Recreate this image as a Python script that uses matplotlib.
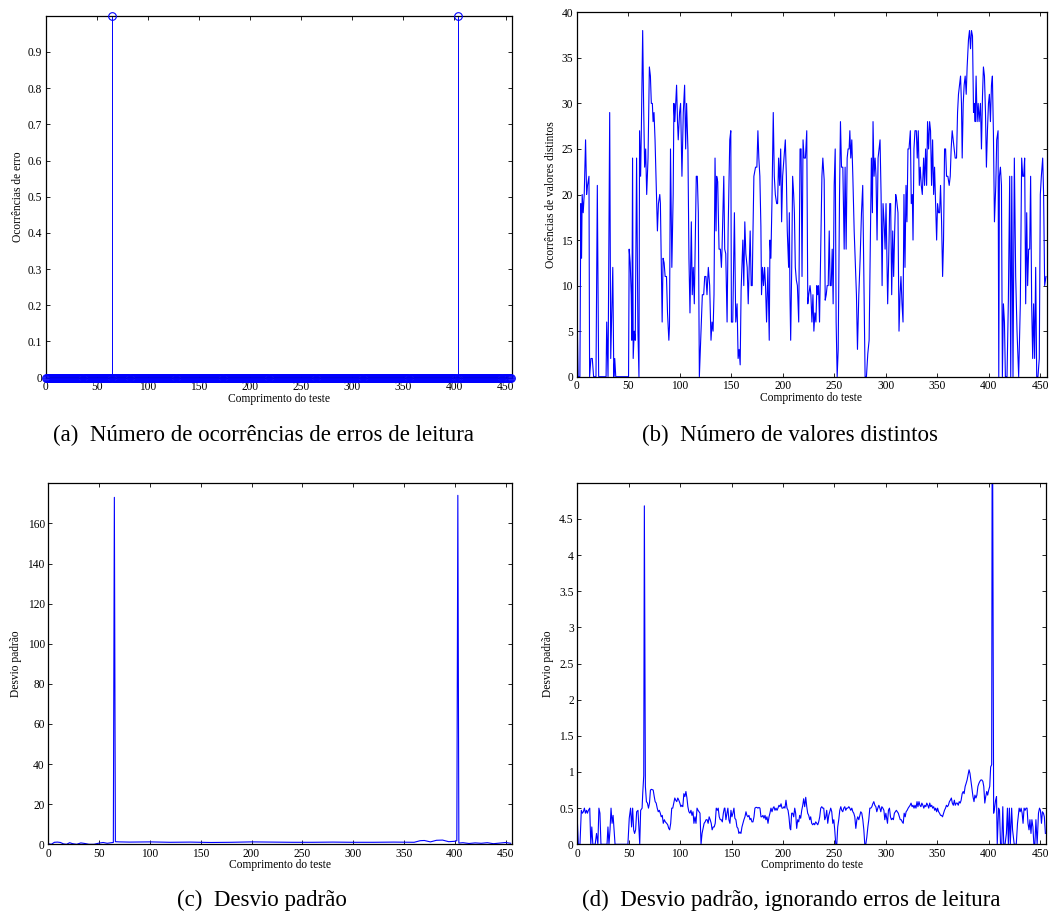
import matplotlib
matplotlib.use("Agg")
import matplotlib.pyplot as plt
import numpy as np

plt.rcParams['font.family'] = ['Liberation Serif', 'DejaVu Serif']

# ---------------- data ----------------
test_length = list(range(0, 456))
error_positions = [65, 403]

# (b) number of distinct values (vertices)
b_x = [0.0, 1.6, 3.3, 4.2, 4.9, 5.5, 6.5, 7.5, 8.8, 9.8, 10.7, 12.1, 12.7, 14.0, 15.3, 16.6, 18.9, 20.2, 21.5,
       28.7, 29.3, 30.6, 32.2, 33.2, 35.2, 36.2, 37.1, 38.1, 50.5, 51.1, 52.1, 53.1, 53.7, 54.4, 55.0, 56.0, 57.0,
       58.3, 59.6, 60.6, 61.2, 62.2, 62.9, 64.2, 65.1, 66.1, 67.1, 68.1, 69.4, 70.7, 71.7, 72.6, 73.6, 74.3, 75.2,
       76.2, 77.5, 78.5, 79.5, 80.8, 81.4, 83.1, 84.0, 85.0, 86.0, 87.3, 88.3, 89.6, 90.2, 91.2, 92.5, 93.8, 94.5,
       95.4, 97.1, 98.0, 98.7, 100.0, 101.0, 102.3, 103.6, 104.9, 105.9, 106.8, 108.1, 109.1, 110.1,
       111.4, 112.3, 113.3, 114.3, 115.3, 116.2, 117.2, 118.2, 119.2, 120.5, 122.1, 123.4, 124.4, 125.6, 126.6,
       127.9, 129.2, 130.5, 131.5, 132.5, 133.4, 134.4, 135.4, 136.0, 137.0, 138.3, 139.6, 140.6, 141.2, 142.9,
       143.8, 144.8, 146.1, 147.1, 148.7, 149.7, 150.3, 151.6, 153.2, 154.5, 155.8, 156.8, 157.8, 158.8, 159.7,
       161.4, 162.3, 163.3, 164.3, 165.6, 166.6, 167.5, 168.5, 169.5, 170.5, 171.1, 172.1, 173.7, 175.0, 176.0,
       176.9, 177.9, 178.9, 179.5, 180.5, 181.5, 182.5, 183.4, 184.4, 185.7, 187.0, 187.7, 188.6, 189.6, 190.9,
       191.9, 192.9, 194.2, 195.1, 196.1, 197.1, 198.1, 199.0, 200.0, 201.3, 202.6, 203.6, 204.5, 205.8, 206.5,
       207.1, 207.8, 208.8, 209.7, 210.7, 211.4, 212.3, 213.3, 214.3, 215.6, 216.9, 217.9, 218.8, 219.8, 220.8,
       222.1, 223.4, 224.4, 225.3, 226.6,
       227.4, 228.4, 229.4, 230.3, 231.3, 232.3, 233.2, 233.9, 234.8, 235.8, 237.1, 238.1, 239.0, 240.3, 241.3,
       242.3, 243.2, 244.2, 245.2, 246.1, 247.1, 248.1, 249.0, 250.0, 251.0, 251.9, 252.9, 253.9, 255.2, 256.1,
       257.1, 258.4, 259.7, 260.6, 261.6, 262.6, 263.5, 264.5, 265.2, 266.1, 267.1, 268.1, 269.4, 270.3, 271.6,
       272.6, 273.9, 275.2, 276.5, 277.7, 278.7, 280.0, 281.3, 282.6, 283.9, 285.2, 286.1, 287.1, 287.7, 288.7,
       289.7, 290.6, 291.6, 292.6, 293.5, 294.5, 295.5, 296.5, 297.4, 298.4, 299.4, 300.3, 301.3, 301.9, 302.9,
       303.9, 304.8, 305.8, 306.8, 307.7, 308.7, 309.7, 310.6, 311.9, 312.9, 313.9, 314.8, 315.8, 316.8, 317.7,
       318.7, 319.7, 320.6, 321.6, 322.6, 323.9, 324.8, 325.8, 326.5, 327.4, 328.4, 329.7, 330.6, 331.6, 332.6,
       333.5, 334.5, 335.5, 336.8, 337.7, 338.7, 339.7, 340.6, 341.6, 342.6,
       343.5, 344.5, 345.5, 346.5, 347.4, 348.4, 349.4, 350.3, 351.3, 352.3, 353.2, 354.2, 355.2, 356.1, 357.1,
       358.1, 359.0, 360.3, 361.6, 362.6, 363.5, 364.5, 365.5, 366.5, 367.4, 368.7, 369.7, 370.6, 371.6, 372.6,
       373.5, 374.2, 375.2, 376.1, 377.1, 378.1, 379.0, 380.3, 381.3, 382.3, 383.2, 384.2, 385.2, 386.1, 386.8,
       387.7, 388.7, 389.7, 390.6, 391.9, 392.9, 393.9, 394.8, 395.8, 396.8, 397.7, 398.7, 399.7, 400.6, 401.6,
       402.6, 403.5, 404.5, 405.5, 406.8, 407.7, 409.0, 409.7, 410.3, 411.3, 412.3, 413.2, 414.2, 415.2, 416.1,
       417.7, 419.0, 420.3, 421.3, 422.3, 423.5, 424.8, 426.1, 427.4, 429.0, 430.6, 431.9, 432.9, 433.9, 434.8,
       435.8, 436.8, 437.7, 438.7, 439.7, 440.6, 441.6, 442.6, 443.5, 444.5, 445.5, 446.5, 447.7, 449.0, 450.0,
       451.0, 452.3, 453.2, 454.2, 455.5]
b_y = [11, 0, 0, 19, 13, 20, 18, 20, 26, 20, 21, 22, 0, 2, 2, 0, 0, 21, 0,
       0, 6, 0, 29, 2, 12, 0, 2, 0, 0, 14, 12.5, 9, 4, 24, 2, 5, 4,
       24, 5, 0, 27, 22, 27, 38, 30, 23, 25, 20, 24, 34, 33, 30, 30, 28, 29,
       26, 20.5, 16, 19, 20, 19, 6, 13, 12.5, 11, 11, 7, 4, 5.5, 25, 12, 20, 30,
       28, 32, 28, 26, 29, 30, 22, 29, 32, 25, 30, 25, 13, 7,
       17, 9, 12, 8, 15, 22, 22, 18, 0, 4, 9, 9, 11, 11, 9,
       12, 10, 4, 6, 5, 9, 24, 16, 22, 21.4, 14, 14, 12, 14, 22,
       14, 13.5, 6, 16, 26, 27, 6, 6, 18, 6, 8, 2, 3, 1.3, 9.5,
       15, 10, 17, 13.5, 12, 8, 12, 16, 10, 10, 15, 22, 23, 23, 27,
       24, 22, 16.5, 9, 12, 10, 12, 10, 6, 12, 4, 15, 13, 19, 29,
       22, 20, 19, 19, 24, 21, 25, 17, 22, 24, 26, 22, 16, 12, 18,
       9, 4, 12, 22, 20, 18, 12, 10.6, 10, 6, 25, 25, 11, 26, 24,
       24, 27, 8, 9, 10,
       9, 6, 9, 5, 7, 6, 10, 9, 10, 6, 15, 22, 24, 21.6, 8.4,
       9, 10, 10, 16, 10, 10, 14, 8, 21, 25, 6, 0, 3, 20, 28,
       23, 23, 14, 23, 14, 24, 25, 25, 27, 24, 26, 22, 16, 13, 9,
       3, 9, 13, 18, 21, 12, 0, 0, 2.5, 4, 16, 24, 18, 28, 22,
       24, 22, 15, 24, 25, 26, 20, 10, 19, 17, 14, 19, 12, 8, 13,
       19, 19, 9, 16, 11, 16, 20, 19.4, 18, 5, 9, 11, 8, 6, 20,
       12, 21, 17, 25, 25, 27, 19, 20, 15, 25, 27, 27, 24, 27, 21,
       23, 21, 20, 24, 21, 25, 21, 28, 25, 28,
       27, 21, 26, 20, 23, 19, 15, 19, 18, 18, 21, 17, 11, 15, 25,
       25, 22, 22, 21, 22, 25, 27, 26, 25, 24, 24, 29, 31, 32, 33,
       30, 24, 30, 32, 33, 31, 34, 37, 38, 36, 38, 37.4, 29, 30, 28,
       33, 28, 30, 28, 30, 25, 30.8, 34, 33, 29, 23, 27, 30, 31, 28,
       32, 33, 26.7, 17, 21, 26, 27, 0, 22, 23, 21, 0, 8, 6, 0,
       0, 8.4, 22, 0, 22, 0, 24, 11, 5, 0, 8, 24, 22, 22, 24,
       8, 18, 10, 14, 14, 22, 8, 2, 8, 2, 12, 0, 0, 2, 20,
       22, 24, 20, 10, 11]

# (c) standard deviation (vertices)
c_x = [0, 3, 6, 9, 12, 15, 18, 21, 24, 28, 32, 36, 40, 45, 50, 54, 58, 62, 64, 65, 66, 70, 80, 100, 120, 140,
       160, 180, 200, 220, 240, 260, 280, 300, 320, 340, 360, 366, 370, 376, 382, 388, 394, 400, 402, 403, 404,
       408, 414, 420, 426, 432, 438, 444, 450, 455]
c_y = [0.3, 0.0, 1.0, 1.1, 0.9, 0.2, 0.0, 0.8, 0.3, 0.0, 0.7, 0.4, 0.0, 0.0, 0.6, 0.9, 0.5, 0.8, 0.9, 173, 1.3,
       1.2, 1.1, 1.2, 1.0, 1.1, 0.9, 1.0, 1.2, 1.1, 1.0, 1.0, 1.1, 1.0, 1.0, 1.1, 1.0, 1.8, 1.9, 1.2, 2.0, 2.1,
       1.3, 1.5, 1.8, 174, 0.6, 0.8, 0.4, 0.7, 0.5, 0.8, 0.3, 0.6, 0.9, 0.5]

# (d) standard deviation ignoring read errors (vertices)
d_x = [0.0, 1.0, 2.6, 3.9, 4.9, 5.9, 6.9, 7.9, 8.9, 9.8, 10.8, 12.1, 13.1, 14.1, 15.1, 17.4, 18.7, 20.0, 21.0,
       22.0, 23.0, 28.9, 29.8, 30.8, 31.8, 32.8, 33.8, 34.8, 35.7, 36.7, 49.2, 50.5, 51.8, 52.8, 53.8, 54.8, 55.7,
       56.7, 57.7, 59.0, 60.7, 61.6, 63.0, 63.6, 64.6, 65.2, 66.2, 67.2, 68.2, 69.2, 70.2, 71.1, 72.1, 73.8, 74.8,
       75.7, 76.7, 77.7, 78.7, 79.7, 80.7, 81.6, 82.6, 83.6, 84.6, 85.6, 86.9, 87.9, 88.9, 89.8, 90.8, 91.8, 92.8,
       93.8, 94.8, 95.7, 96.7, 97.7, 98.7, 99.7, 100.7, 101.6, 102.6, 103.6, 104.6, 105.6, 106.6, 107.5, 108.5,
       109.5, 110.5, 111.5, 112.5, 113.4, 114.4, 115.4, 116.4, 117.4, 118.4, 119.3, 120.3, 121.3, 122.3, 123.3,
       124.3, 125.2, 126.2, 127.2, 128.2, 129.2, 130.2, 131.1, 132.1, 133.1, 134.1, 135.1, 136.1, 137.0, 138.0,
       139.0, 140.0, 141.0, 142.0, 143.0,
       143.5, 144.5, 145.5, 146.4, 147.4, 148.4, 149.4, 150.3, 151.3, 152.3, 153.2, 154.2, 155.2, 156.2, 157.1,
       158.1, 159.1, 160.1, 161.0, 162.0, 163.0, 164.0, 164.9, 165.9, 166.9, 167.9, 168.8, 169.8, 170.8, 171.8,
       172.7, 173.7, 174.7, 175.6, 176.6, 177.6, 178.6, 179.5, 180.5, 181.5, 182.5, 183.4, 184.4, 185.4, 186.4,
       187.3, 188.3, 189.3, 190.3, 191.2, 192.2, 193.2, 194.2, 195.1, 196.1, 197.1, 198.1, 199.0, 200.0, 201.0,
       201.9, 202.9, 203.9, 204.9, 205.8, 206.8, 207.5, 208.4, 209.4, 210.4, 211.4, 212.3, 213.3, 214.3, 215.3,
       216.2, 217.2, 218.2, 219.2, 220.1, 221.1, 222.1, 223.1, 224.0, 225.0, 226.0, 226.9, 227.9, 228.9, 229.9,
       230.8, 231.8, 232.8, 233.8, 234.7, 235.7, 236.7, 237.7, 238.6, 239.6, 240.6, 241.6, 242.5, 243.5, 244.5,
       245.5, 246.4, 247.4, 248.4, 249.4, 250.3, 251.3, 252.3, 253.2, 254.2, 255.2, 256.2, 257.1, 258.1, 259.1,
       260.1, 261.0, 262.0, 263.0, 264.0, 264.9, 265.9, 266.9, 267.9, 268.8, 269.8, 270.8, 271.8, 272.7, 273.7,
       274.7, 275.6, 276.6, 277.6, 278.6, 279.5, 280.5, 281.5, 282.5, 283.4, 284.4, 285.4, 286.4, 287.3, 288.3,
       289.3, 290.3, 291.2, 292.2, 293.2, 294.2, 295.1, 296.1, 297.1, 298.1, 299.0, 300.0,
       301.6, 302.5, 303.5, 304.5, 305.4, 306.4, 307.3, 308.3, 309.2, 310.2, 311.1, 312.1, 313.1, 314.0, 315.0,
       315.9, 316.9, 317.8, 318.8, 319.7, 320.7, 321.7, 322.6, 323.6, 324.5, 325.5, 326.4, 327.4, 328.3, 329.3,
       330.3, 331.2, 332.2, 333.1, 334.1, 335.0, 336.0, 336.9, 337.9, 338.9, 339.8, 340.8, 341.7, 342.7, 343.6,
       344.6, 345.5, 346.5, 347.5, 348.4, 349.4, 350.3, 351.3, 352.2, 353.2, 354.1, 355.1, 356.1, 357.0, 358.0,
       358.9, 359.9, 360.8, 361.8, 362.7, 363.7, 364.6, 365.6, 366.6, 367.5, 368.5, 369.4, 370.4, 371.3, 372.3,
       373.2, 374.2, 375.2, 376.1, 377.1, 378.0, 379.0, 379.9, 380.9, 381.8, 382.8, 383.8, 384.7, 385.7, 386.6,
       387.6, 388.5, 389.5, 390.4, 391.4, 392.4, 393.3, 394.3, 395.2, 396.2, 397.1, 398.1, 399.0, 400.0, 401.0,
       401.9, 402.9, 403.5, 404.8, 405.7, 406.7, 407.6, 408.3, 409.6, 410.5, 411.5, 412.7, 413.7, 414.6, 415.9,
       417.2, 418.2, 419.1, 420.1, 421.0, 422.3, 423.2, 424.8, 426.8, 428.0, 429.6, 430.6, 431.5, 432.5, 433.4,
       434.4, 435.4, 436.3, 437.3, 438.2, 439.2, 440.1, 441.1, 442.0, 443.0, 443.9, 444.9, 445.9, 447.1, 448.4,
       449.4, 450.3, 451.3, 452.2, 453.2, 454.1, 455.1]
d_y = [0.34, 0, 0, 0.47, 0.43, 0.45, 0.5, 0.43, 0.47, 0.43, 0.47, 0.5, 0, 0.24, 0, 0, 0.15, 0, 0.5,
       0.43, 0, 0, 0.24, 0, 0.2, 0.5, 0.29, 0.4, 0.2, 0, 0, 0.36, 0.5, 0.24, 0.5, 0.2, 0.15,
       0.2, 0.45, 0.47, 0, 0.47, 0.5, 0.7, 0.95, 4.68, 0.8, 0.59, 0.57, 0.5, 0.57, 0.75, 0.76, 0.75, 0.66,
       0.59, 0.57, 0.5, 0.45, 0.47, 0.43, 0.38, 0.4, 0.29, 0.34, 0.31, 0.29, 0.27, 0.22, 0.2, 0.29, 0.5, 0.5,
       0.57, 0.64, 0.61, 0.59, 0.64, 0.61, 0.57, 0.52, 0.54, 0.52, 0.7, 0.66, 0.73, 0.64, 0.52, 0.45,
       0.43, 0.47, 0.4, 0.45, 0.29, 0.38, 0.29, 0.5, 0.47, 0.45, 0.43, 0, 0.15, 0.22, 0.29,
       0.31, 0.34, 0.34, 0.29, 0.38, 0.34, 0.29, 0.2, 0.24, 0.24, 0.29, 0.5, 0.47, 0.5, 0.38,
       0.34, 0.34, 0.31, 0.43, 0.5,
       0.5, 0.34, 0.43, 0.5, 0.34, 0.29, 0.47, 0.38, 0.43, 0.5, 0.36, 0.34, 0.24, 0.22, 0.15,
       0.17, 0.15, 0.24, 0.29, 0.34, 0.38, 0.45, 0.4, 0.38, 0.4, 0.34, 0.36, 0.31, 0.31, 0.38,
       0.5, 0.51, 0.51, 0.5, 0.51, 0.5, 0.38, 0.38, 0.4, 0.36, 0.4, 0.34, 0.38, 0.29, 0.38,
       0.43, 0.5, 0.45, 0.5, 0.52, 0.47, 0.5, 0.47, 0.5, 0.54, 0.52, 0.56, 0.5, 0.5, 0.52,
       0.5, 0.61, 0.5, 0.47, 0.38, 0.22, 0.2, 0.43, 0.43, 0.38, 0.5, 0.43, 0.22, 0.34, 0.31,
       0.4, 0.36, 0.47, 0.54, 0.63, 0.52, 0.65, 0.52, 0.43, 0.4, 0.34, 0.38, 0.29, 0.27, 0.29,
       0.27, 0.31, 0.29, 0.27, 0.31, 0.38, 0.5, 0.52, 0.5, 0.5, 0.34, 0.38, 0.47, 0.29, 0.4,
       0.45, 0.5, 0.45, 0.29, 0.34, 0.2, 0, 0, 0.24, 0.34, 0.47, 0.52, 0.47, 0.45, 0.5,
       0.52, 0.47, 0.5, 0.5, 0.52, 0.5, 0.47, 0.5, 0.45, 0.43, 0.38, 0.22, 0.34, 0.38, 0.34,
       0.4, 0.45, 0.43, 0.34, 0.2, 0, 0, 0.1, 0.24, 0.34, 0.5, 0.5, 0.52, 0.56, 0.59,
       0.54, 0.52, 0.45, 0.5, 0.54, 0.5, 0.45, 0.52, 0.5, 0.47, 0.34, 0.43,
       0.29, 0.47, 0.5, 0.38, 0.34, 0.36, 0.34, 0.43, 0.45, 0.47, 0.45, 0.43, 0.38, 0.34, 0.34,
       0.31, 0.29, 0.43, 0.38, 0.45, 0.47, 0.5, 0.52, 0.54, 0.57, 0.52, 0.54, 0.5, 0.54, 0.5,
       0.59, 0.52, 0.59, 0.54, 0.52, 0.57, 0.54, 0.5, 0.54, 0.52, 0.57, 0.54, 0.5, 0.57, 0.52,
       0.54, 0.5, 0.52, 0.47, 0.5, 0.45, 0.5, 0.45, 0.43, 0.4, 0.4, 0.38, 0.43, 0.47, 0.5,
       0.54, 0.52, 0.54, 0.59, 0.61, 0.64, 0.57, 0.54, 0.61, 0.54, 0.57, 0.57, 0.54, 0.59, 0.57,
       0.61, 0.7, 0.73, 0.7, 0.8, 0.84, 0.89, 0.96, 1.03, 0.98, 0.87, 0.77, 0.66, 0.59, 0.68,
       0.64, 0.68, 0.8, 0.84, 0.87, 0.89, 0.89, 0.87, 0.8, 0.57, 0.66, 0.73, 0.68, 0.75, 0.8,
       1.07, 1.1, 7.0, 0.43, 0.5, 0.61, 0.66, 0, 0.5, 0.47, 0, 0, 0.52, 0, 0,
       0.15, 0.5, 0, 0.5, 0, 0.5, 0.2, 0, 0, 0.29, 0.5, 0.45, 0.5, 0.43, 0.29,
       0.5, 0.47, 0.5, 0.5, 0.29, 0.2, 0.34, 0.15, 0.34, 0.24, 0, 0, 0.34, 0, 0.43,
       0.5, 0.47, 0.29, 0.45, 0.43, 0.38, 0.15]

x_ticks = [0, 50, 100, 150, 200, 250, 300, 350, 400, 450]
a_yticks = [0, 0.1, 0.2, 0.3, 0.4, 0.5, 0.6, 0.7, 0.8, 0.9]
b_yticks = [0, 5, 10, 15, 20, 25, 30, 35, 40]
c_yticks = [0, 20, 40, 60, 80, 100, 120, 140, 160]
d_yticks = [0, 0.5, 1, 1.5, 2, 2.5, 3, 3.5, 4, 4.5]

xlabel = "Comprimento do teste"
ylabels = ["Ocorrências de erro", "Ocorrências de valores distintos", "Desvio padrão", "Desvio padrão"]
captions = ["(a)  Número de ocorrências de erros de leitura", "(b)  Número de valores distintos",
            "(c)  Desvio padrão", "(d)  Desvio padrão, ignorando erros de leitura"]

# ---------------- figure ----------------
W, H = 1051, 918
fig = plt.figure(figsize=(W / 100, H / 100), dpi=100)

def frac_box(left, right, top, bottom):
    return [left / W, 1 - bottom / H, (right - left) / W, (bottom - top) / H]

boxes = [frac_box(45.7, 511.7, 15.7, 377.7),
         frac_box(576.5, 1046.5, 12.3, 376.7),
         frac_box(48.3, 511.7, 483.3, 844.3),
         frac_box(577.3, 1046.3, 482.7, 844.3)]
ylims = [(0, 1), (0, 40), (0, 180), (0, 5)]
yticks = [a_yticks, b_yticks, c_yticks, d_yticks]
ylabel_x = [18.5, 551, 16, 548]
caption_xy = [(263, 435), (790, 435), (262, 900), (791, 900)]

blue = '#0000ff'
axes = []
for i in range(4):
    ax = fig.add_axes(boxes[i])
    axes.append(ax)
    ax.set_xlim(0, 456)
    ax.set_ylim(*ylims[i])
    ax.set_xticks(x_ticks)
    ax.set_yticks(yticks[i])
    ax.set_yticklabels(['%g' % v for v in yticks[i]])
    ax.tick_params(direction='in', length=3, width=0.6, labelsize=8.3, pad=2.5,
                   top=True, right=True, colors='black')
    for sp in ax.spines.values():
        sp.set_linewidth(0.9)
    l, b, w, h = boxes[i]
    fig.text(l + w / 2, b - 21 / H, xlabel, ha='center', va='center', fontsize=8.3)
    fig.text(ylabel_x[i] / W, b + h / 2, ylabels[i], ha='center', va='center',
             rotation=90, fontsize=8.3)
    cx, cy = caption_xy[i]
    fig.text(cx / W, 1 - cy / H, captions[i], ha='center', va='center', fontsize=16.5)

# (a) stem plot
err_count = [1 if t in error_positions else 0 for t in test_length]
ax = axes[0]
markerline, stemlines, baseline = ax.stem(test_length, err_count, linefmt='-', markerfmt='o', basefmt='k-')
markerline.set_color(blue)
markerline.set_markerfacecolor('none')
markerline.set_markersize(5.5)
markerline.set_markeredgewidth(0.8)
markerline.set_clip_on(False)
markerline.set_zorder(3)
stemlines.set_color(blue)
stemlines.set_linewidth(0.7)
baseline.set_visible(False)
ax.axhline(0, color='k', lw=0.9, zorder=4)

# (b)
axes[1].plot(b_x, b_y, color=blue, lw=0.8)
# (c)
axes[2].plot(c_x, c_y, color=blue, lw=0.8)
# (d)
axes[3].plot(d_x, d_y, color=blue, lw=0.8)

fig.savefig("out.png", dpi=100, facecolor='white')
